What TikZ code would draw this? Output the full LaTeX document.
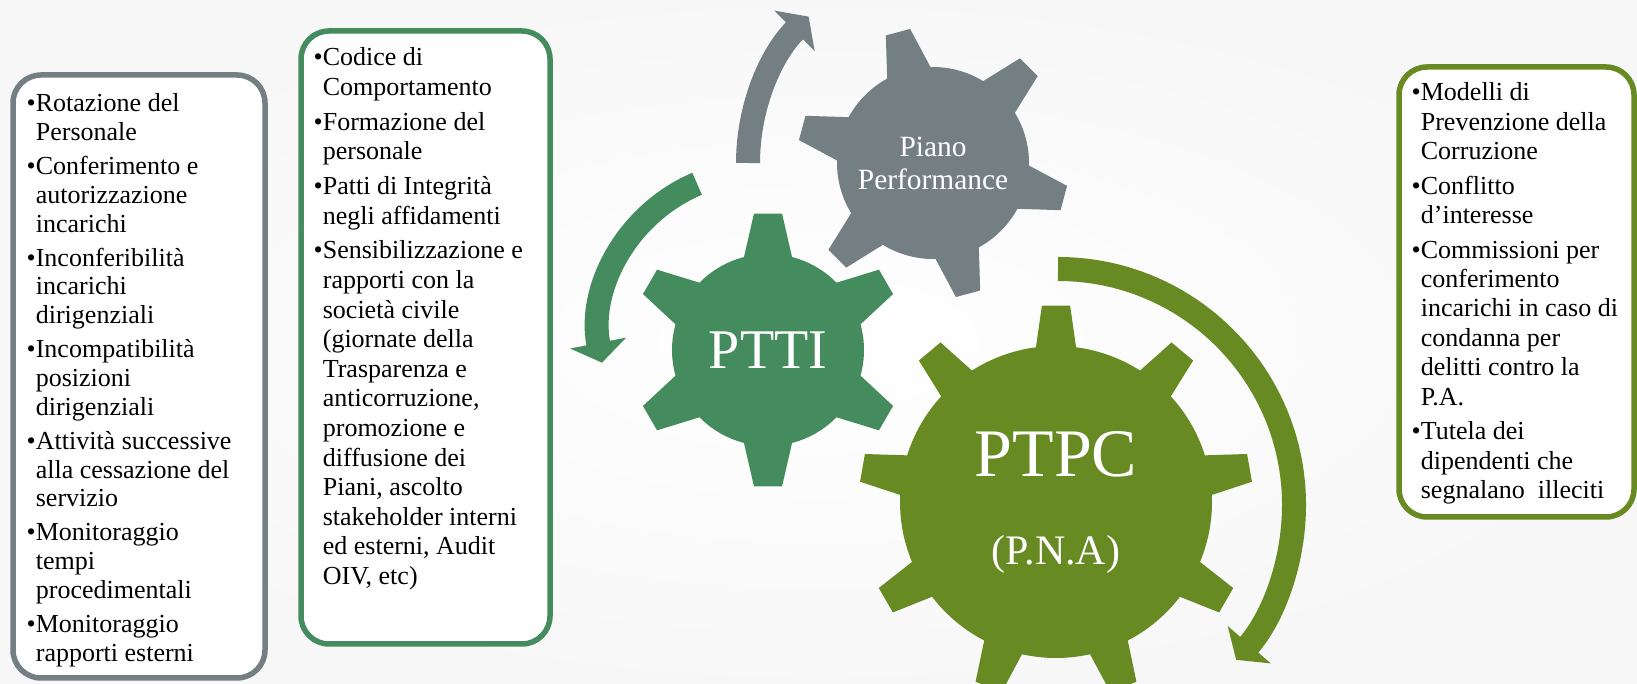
\documentclass[tikz,border=0pt]{standalone}
\usepackage{fontspec}
\setmainfont{Liberation Serif}
\usetikzlibrary{arrows.meta,positioning}

\definecolor{ggray}{HTML}{747F84}
\definecolor{ggreen}{HTML}{448C5D}
\definecolor{golive}{HTML}{678A22}

\newcommand{\bl}{\makebox[4.6pt][l]{\textbullet}}
\newcommand{\ind}{\hspace*{4.6pt}}
\newcommand{\gear}[8]{%
  \fill[#8, shift={(#1)}] (#7-#5:#3)
  \foreach \k in {1,...,#2} {
    -- ({#7+360/#2*(\k-1)-#6}:#4) -- ({#7+360/#2*(\k-1)+#6}:#4) -- ({#7+360/#2*(\k-1)+#5}:#3)
    arc[start angle={#7+360/#2*(\k-1)+#5}, delta angle={360/#2-2*#5}, radius=#3]
  } -- cycle;}

\tikzstyle{listbox}=[rectangle, rounded corners=14pt, line width=2.75pt, fill=white]
\tikzstyle{listtext}=[anchor=north west, inner sep=0pt, align=left, font=\fontsize{13}{14.4}\selectfont]
\tikzstyle{gearlabel}=[text=white, align=center]
\tikzstyle{bigarrow}=[line width=12pt, -{Triangle[length=10pt, width=28pt]}]

\begin{document}
\begin{tikzpicture}[x=0.5pt, y=0.5pt, node distance=49pt]

\useasboundingbox (0,0) rectangle (1637,684);
\shade[inner color=white, outer color=black!3] (0,0) rectangle (1637,684);

\coordinate(cg) at (933,521);
\coordinate(ct) at (768,334);
\coordinate(cp) at (1056,182);

\gear{cg}{6}{96}{136}{13.5}{5.3}{45}{ggray}
\gear{ct}{6}{96}{137}{14.5}{5.9}{30}{ggreen}
\gear{cp}{9}{156}{197}{7.4}{4.1}{90}{golive}

\draw[bigarrow, ggray]([shift={(180:207)}]955,521) arc[start angle=180, end angle=135, radius=207];
\draw[bigarrow, ggreen]([shift={(113:161)}]760,352) arc[start angle=113, end angle=191, radius=161];
\draw[bigarrow, golive]([shift={(90:236)}]1058,179) arc[start angle=90, end angle=-41, radius=236];

\node(b0)[listbox, draw=ggray, minimum width=126pt, minimum height=301.5pt] at (139,307.5) {};
\node(b1)[listbox, draw=ggreen, minimum width=124.5pt, minimum height=306.5pt] at (425.5,346.5) {};
\node(b2)[listbox, draw=golive, minimum width=117.5pt, minimum height=225pt] at (1516.5,392) {};

\node(l0)[listtext, xshift=8pt, yshift=-10.5pt] at (b0.north west) {\bl Rotazione del\\ \ind Personale\\[2.6pt]
\bl Conferimento e\\ \ind autorizzazione\\ \ind incarichi\\[2.6pt]
\bl Inconferibilità\\ \ind incarichi\\ \ind dirigenziali\\[2.6pt]
\bl Incompatibilità\\ \ind posizioni\\ \ind dirigenziali\\[2.6pt]
\bl Attività successive\\ \ind alla cessazione del\\ \ind servizio\\[2.6pt]
\bl Monitoraggio\\ \ind tempi\\ \ind procedimentali\\[2.6pt]
\bl Monitoraggio\\ \ind rapporti esterni};
\node(l1)[listtext, font=\fontsize{13}{14.8}\selectfont, xshift=7.5pt, yshift=-9.5pt] at (b1.north west) {\bl Codice di\\ \ind Comportamento\\[2.6pt]
\bl Formazione del\\ \ind personale\\[2.6pt]
\bl Patti di Integrità\\ \ind negli affidamenti\\[2.6pt]
\bl Sensibilizzazione e\\ \ind rapporti con la\\ \ind società civile\\ \ind (giornate della\\ \ind Trasparenza e\\ \ind anticorruzione,\\ \ind promozione e\\ \ind diffusione dei\\ \ind Piani, ascolto\\ \ind stakeholder interni\\ \ind ed esterni, Audit\\ \ind OIV, etc)};
\node(l2)[listtext, font=\fontsize{13}{14.7}\selectfont, xshift=7.5pt, yshift=-9pt] at (b2.north west) {\bl Modelli di\\ \ind Prevenzione della\\ \ind Corruzione\\[2.6pt]
\bl Conflitto\\ \ind d’interesse\\[2.6pt]
\bl Commissioni per\\ \ind conferimento\\ \ind incarichi in caso di\\ \ind condanna per\\ \ind delitti contro la\\ \ind P.A.\\[2.6pt]
\bl Tutela dei\\ \ind dipendenti che\\ \ind segnalano\ \ illeciti};

\node(g0)[gearlabel, font=\fontsize{14.7}{16.5}\selectfont] at (cg) {Piano\\Performance};
\node(g1)[gearlabel, font=\fontsize{28}{30}\selectfont] at (ct) {PTTI};
\node(g2)[gearlabel, font=\fontsize{34}{36}\selectfont, above of=cp, node distance=24pt] {PTPC};
\node(g3)[gearlabel, font=\fontsize{21}{24}\selectfont, below of=g2, node distance=50pt] {(P.N.A)};

\end{tikzpicture}
\end{document}
